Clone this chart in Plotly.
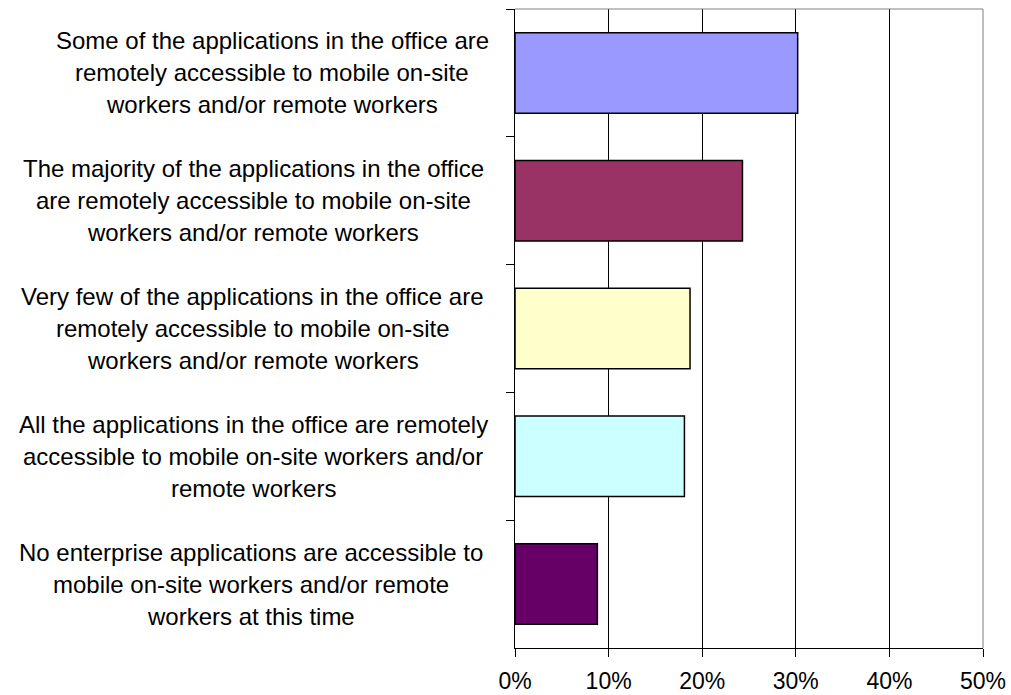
import plotly.graph_objects as go

# Survey responses, top to bottom
categories = [
    "Some",
    "Majority",
    "Very few",
    "All",
    "None",
]
label_lines = [
    ["Some of the applications in the office are",
     "remotely accessible to mobile on-site",
     "workers and/or remote workers"],
    ["The majority of the applications in the office",
     "are remotely accessible to mobile on-site",
     "workers and/or remote workers"],
    ["Very few of the applications in the office are",
     "remotely accessible to mobile on-site",
     "workers and/or remote workers"],
    ["All the applications in the office are remotely",
     "accessible to mobile on-site workers and/or",
     "remote workers"],
    ["No enterprise applications are accessible to",
     "mobile on-site workers and/or remote",
     "workers at this time"],
]
shares = [30.2, 24.3, 18.7, 18.1, 8.8]
bar_colors = ["#9999FF", "#993366", "#FFFFCC", "#CCFFFF", "#660066"]
x_ticks = [0, 10, 20, 30, 40, 50]
x_tick_labels = ["0%", "10%", "20%", "30%", "40%", "50%"]
# horizontal centre (px) of each wrapped label block
label_centers_px = [272, 253, 252.5, 253, 251]

W, H = 1011, 695
L, R, T, B = 515, 28, 9, 47
plot_w = W - L - R

FONT = "Liberation Sans, Arial, sans-serif"

fig = go.Figure(go.Bar(
    y=categories,
    x=shares,
    orientation="h",
    marker=dict(color=bar_colors, line=dict(color="#000000", width=1.5)),
    width=0.63,
    hoverinfo="skip",
))

annotations = []
for cat, lines, cx in zip(categories, label_lines, label_centers_px):
    n = len(lines)
    for i, line in enumerate(lines):
        annotations.append(dict(
            x=(cx - L) / plot_w, xref="paper",
            y=cat, yref="y",
            text=line, showarrow=False,
            xanchor="center", yanchor="middle",
            yshift=(n - 1) / 2 * 32 - i * 32,
            font=dict(family=FONT, size=24, color="#000000"),
        ))

fig.update_layout(
    width=W, height=H,
    margin=dict(l=L, r=R, t=T, b=B, autoexpand=False),
    plot_bgcolor="#FFFFFF",
    paper_bgcolor="#FFFFFF",
    showlegend=False,
    annotations=annotations,
    xaxis=dict(
        range=[0, 50],
        tickvals=x_ticks, ticktext=x_tick_labels,
        showgrid=True, gridcolor="#000000", gridwidth=1,
        showline=True, linecolor="#000000", linewidth=1,
        ticks="outside", ticklen=8, tickcolor="#000000",
        ticklabelstandoff=4,
        tickfont=dict(family=FONT, size=23, color="#000000"),
        zeroline=False, fixedrange=True, automargin=False,
    ),
    yaxis=dict(
        categoryorder="array", categoryarray=categories,
        autorange="reversed",
        showticklabels=False,
        tickson="boundaries",
        ticks="outside", ticklen=8, tickcolor="#000000",
        showline=True, linecolor="#000000", linewidth=1,
        showgrid=False, zeroline=False, fixedrange=True, automargin=False,
    ),
    shapes=[
        dict(type="line", xref="paper", yref="paper", x0=0, x1=1, y0=1, y1=1,
             line=dict(color="#808080", width=1)),
        dict(type="line", xref="paper", yref="paper", x0=1, x1=1, y0=0, y1=1,
             line=dict(color="#808080", width=1)),
    ],
)

fig.write_html("out.html")
